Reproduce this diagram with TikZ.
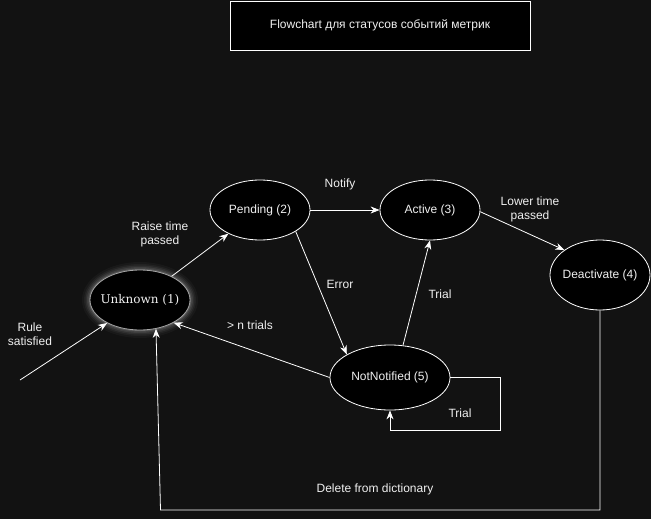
\documentclass[tikz,border=0pt]{standalone}
\usepackage{fontspec}
\setmainfont{Liberation Sans}
\newfontfamily\serifU{DejaVu Serif}
\usetikzlibrary{shapes.geometric,arrows.meta}
\definecolor{bg}{HTML}{121212}
\definecolor{txt}{HTML}{F0F0F0}
\begin{document}
\begin{tikzpicture}[x=1pt,y=-1pt,
  font=\fontsize{12}{14}\selectfont,
  every node/.style={text=txt},
  state/.style={ellipse, draw=white, fill=black, line width=0.8pt, minimum width=100pt, minimum height=60pt, inner sep=0pt},
  arr/.style={draw=white, line width=0.8pt, -{Stealth[length=9pt,width=7pt]}},
  lbl/.style={align=center, text=txt, inner sep=0pt}]
\fill[bg] (0,0) rectangle (651,519);
\useasboundingbox (0,0) rectangle (651,519);
% title
\node[draw=white, fill=black, line width=0.8pt, minimum width=300pt, minimum height=49pt, inner sep=0pt] (t) at (380,25.5) {Flowchart для статусов событий метрик};
% states
\node[state] (p) at (260,210) {\makebox[0pt]{Pending (2)}};
\node[state] (a) at (430,210) {\makebox[0pt]{Active (3)}};
\node[state, minimum height=70pt] (d) at (600,275) {\makebox[0pt]{Deactivate (4)}};
\node[state, minimum width=120pt, minimum height=65pt] (n) at (390,377.5) {\makebox[0pt]{NotNotified (5)}};
% halo
\foreach \rx/\ry/\o in {58/38/0.03,56/36/0.04,54.5/34.5/0.06,53/33/0.08,51.5/31.5/0.12}{
  \fill[white, opacity=\o] (140,300) ellipse [x radius=\rx pt, y radius=\ry pt];
}
\node[state, draw=gray!70!white, font=\serifU\fontsize{12}{14}\selectfont] (u) at (140,300) {\makebox[0pt]{Unknown (1)}};
% helper coordinates
\coordinate (lp1) at (500,377.5);
\coordinate (lp2) at (500,430);
\coordinate (lp3) at (390,430);
\coordinate (c1) at (600,510);
\coordinate (c2) at (160.5,510);
\coordinate (rs) at (20,380);
% connectors
\draw[arr] (u) -- (p);
\draw[arr] (p) -- (a);
\draw[arr] (a.-2) -- (d.145);
\draw[arr] (p.-31) -- (n.152);
\draw[arr] (n.68) -- (a.south);
\draw[arr] (n.west) -- (u.-34);
\draw[arr] (n.east) -- (lp1) -- (lp2) -- (lp3) -- (n.south);
\draw[arr] (d.south) -- (c1) -- (c2) -- (u.-61);
\draw[arr] (rs) -- (u.-145);
% labels
\node[lbl] (l1) at (160,234) {Raise time\\passed};
\node[lbl] (l2) at (340,184) {Notify};
\node[lbl] (l3) at (530,209) {Lower time\\passed};
\node[lbl] (l4) at (340,284) {Error};
\node[lbl] (l5) at (440,294) {Trial};
\node[lbl] (l6) at (250,325) {> n trials};
\node[lbl] (l7) at (460,413) {Trial};
\node[lbl] (l8) at (30,334) {Rule\\satisfied};
\node[lbl] (l9) at (375,489) {Delete from dictionary};
\end{tikzpicture}
\end{document}
